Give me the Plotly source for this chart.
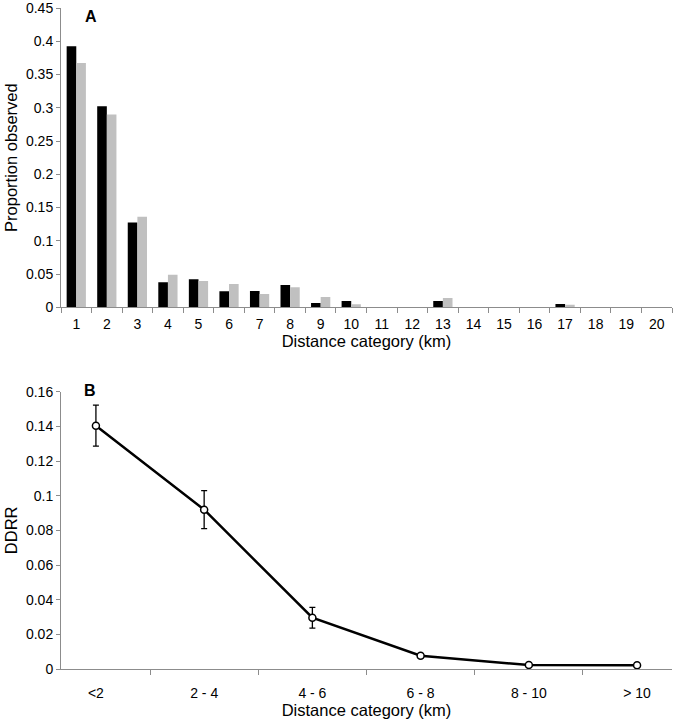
import plotly.graph_objects as go

# Panel A data
categories_a = [str(i) for i in range(1, 21)]
observed_black = [0.3925, 0.3025, 0.1275, 0.0375, 0.042, 0.024, 0.0245, 0.0335, 0.0065, 0.0095,
                  0, 0, 0.0095, 0, 0, 0, 0.005, 0, 0, 0]
observed_gray = [0.3675, 0.29, 0.136, 0.049, 0.0395, 0.035, 0.02, 0.03, 0.0155, 0.0045,
                 0, 0, 0.014, 0, 0, 0, 0.004, 0, 0, 0]

# Panel B data
categories_b = ["<2", "2 - 4", "4 - 6", "6 - 8", "8 - 10", "> 10"]
ddrr = [0.1405, 0.092, 0.0296, 0.0077, 0.0023, 0.0021]
ddrr_err = [0.0118, 0.011, 0.006, 0.0012, 0.0004, 0.0004]

FONT = "Liberation Sans, Arial, sans-serif"
AXIS_GRAY = "#8c8c8c"

fig = go.Figure()
fig.add_trace(go.Bar(x=categories_a, y=observed_black, marker=dict(color="black", line=dict(width=0)),
                     xaxis="x", yaxis="y", showlegend=False))
fig.add_trace(go.Bar(x=categories_a, y=observed_gray, marker=dict(color="#c0c0c0", line=dict(width=0)),
                     xaxis="x", yaxis="y", showlegend=False))
fig.add_trace(go.Scatter(x=categories_b, y=ddrr, mode="lines+markers",
                         line=dict(color="black", width=2.5),
                         marker=dict(symbol="circle", size=7, color="white", line=dict(color="black", width=1.5)),
                         error_y=dict(type="data", array=ddrr_err, visible=True, color="black", thickness=1.3, width=3),
                         xaxis="x2", yaxis="y2", showlegend=False))

common_axis = dict(showgrid=False, zeroline=False, showline=True, linecolor=AXIS_GRAY, linewidth=1,
                   automargin=False, ticklabeloverflow="allow",
                   ticks="outside", tickcolor=AXIS_GRAY, tickfont=dict(family=FONT, size=14, color="black"))
TITLE_FONT = dict(family=FONT, size=16.5)

fig.update_layout(
    width=677, height=720,
    margin=dict(l=61, r=5, t=8, b=51),
    paper_bgcolor="white", plot_bgcolor="white",
    barmode="group", bargap=0.37, bargroupgap=0,
    font=dict(family=FONT, color="black"),
    xaxis=dict(**common_axis, domain=[0, 1], anchor="y", type="category", tickson="boundaries", ticklen=5,
               ticklabelstandoff=4,
               title=dict(text="Distance category (km)", font=TITLE_FONT, standoff=2)),
    yaxis=dict(**common_axis, domain=[0.5472, 1], anchor="x", range=[0, 0.4501], dtick=0.05, ticklen=4,
               title=dict(text="Proportion observed", font=TITLE_FONT, standoff=4)),
    xaxis2=dict(**common_axis, domain=[0, 1], anchor="y2", type="category", tickson="boundaries", ticklen=5,
                ticklabelstandoff=11,
                title=dict(text="Distance category (km)", font=TITLE_FONT, standoff=2)),
    yaxis2=dict(**common_axis, domain=[0, 0.4195], anchor="x2", range=[0, 0.1601], dtick=0.02, ticklen=4,
                title=dict(text="DDRR", font=TITLE_FONT, standoff=4)),
)

# panel letters, positioned in pixels converted to paper coordinates
pw, ph = 677 - 61 - 5, 720 - 8 - 51
def to_paper(px, py):
    return (px - 61) / pw, (720 - 51 - py) / ph

ax, ay = to_paper(91, 16)
bx, by = to_paper(90, 390)
fig.add_annotation(text="<b>A</b>", x=ax, y=ay, xref="paper", yref="paper", showarrow=False,
                   xanchor="center", yanchor="middle",
                   font=dict(family=FONT, size=16, color="black"))
fig.add_annotation(text="<b>B</b>", x=bx, y=by, xref="paper", yref="paper", showarrow=False,
                   xanchor="center", yanchor="middle",
                   font=dict(family=FONT, size=16, color="black"))

fig.write_html("out.html", config={"displayModeBar": False},
               post_script="document.body.style.margin='0';")
